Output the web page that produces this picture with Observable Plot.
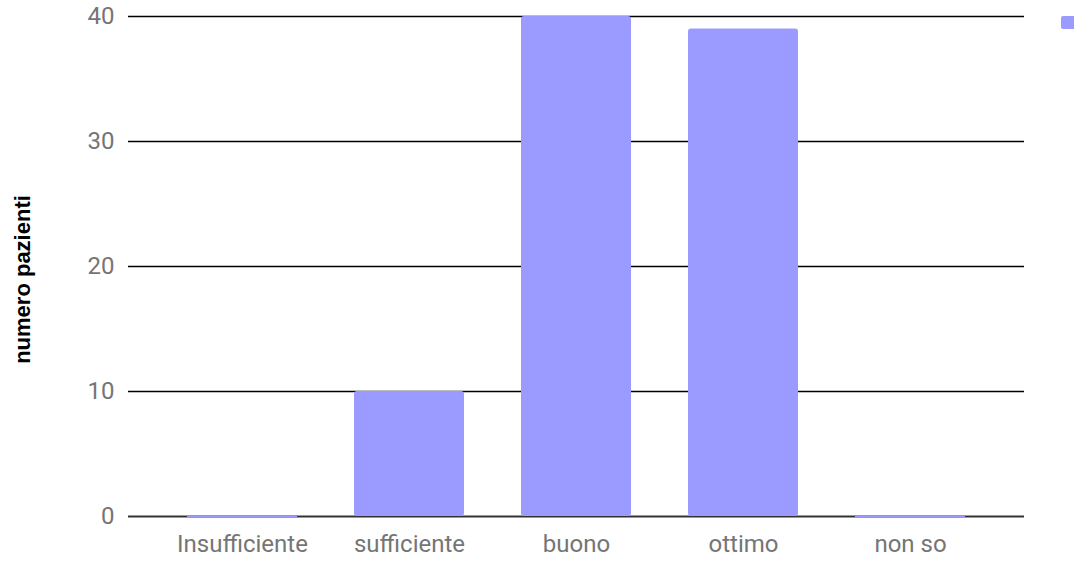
<!DOCTYPE html>
<html>
<head>
<meta charset="utf-8">
<script src="https://cdn.jsdelivr.net/npm/d3@7"></script>
<script src="https://cdn.jsdelivr.net/npm/@observablehq/plot@0.6"></script>
<style>
  body { margin: 0; background: #fff; }
  #wrap { position: relative; width: 1074px; height: 561px; overflow: hidden; }
  #swatch { position: absolute; left: 1061px; top: 16px; width: 20px; height: 13px; border-radius: 2px; background: #9b9bff; }
</style>
</head>
<body>
<div id="wrap"><div id="swatch"></div></div>
<script>
const categories = ["Insufficiente", "sufficiente", "buono", "ottimo", "non so"];
const values = [0, 10, 40, 39, 0];
const yTicks = [0, 10, 20, 30, 40];
const yTitle = "numero pazienti";
const barColor = "#9b9bff";

const data = categories.map((c, i) => ({cat: c, v: values[i]}));

const chart = Plot.plot({
  width: 1074,
  height: 561,
  marginTop: 16,
  marginBottom: 45,
  marginLeft: 128,
  marginRight: 50,
  style: {fontFamily: "Roboto", fontSize: "24px", color: "#757575", background: "#fff"},
  x: {domain: categories, padding: 0.34, tickSize: 0, tickPadding: 18, label: null},
  y: {domain: [0, 40], ticks: yTicks, tickSize: 0, tickPadding: 14, label: null},
  marks: [
    Plot.ruleY(yTicks.filter(t => t > 0), {stroke: "#000", strokeWidth: 1.5}),
    Plot.ruleY([0], {stroke: "#333", strokeWidth: 2}),
    Plot.barY(data.filter(d => d.v > 0), {x: "cat", y: "v", fill: barColor, rx: 3}),
    Plot.tickY(data.filter(d => d.v === 0), {x: "cat", y: "v", stroke: barColor, strokeWidth: 1.5}),
    Plot.text([yTitle], {frameAnchor: "left", textAnchor: "middle", rotate: -90, dx: -106, dy: 13, fontWeight: "bold", fontSize: 22, fill: "#000", fontFamily: "Liberation Sans"})
  ]
});
document.getElementById("wrap").prepend(chart);
</script>
</body>
</html>
